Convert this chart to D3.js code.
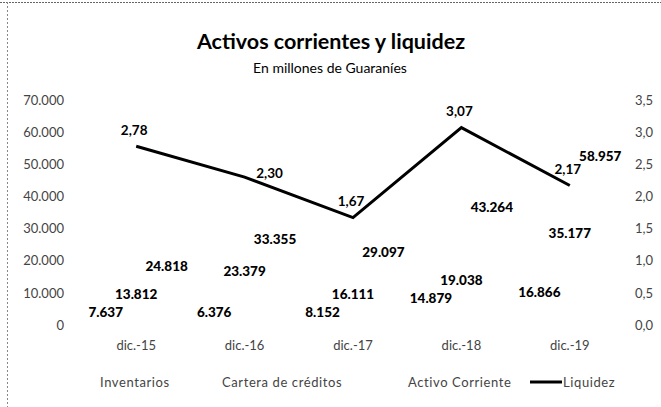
<!DOCTYPE html>
<html>
<head>
<meta charset="utf-8">
<script src="https://cdn.jsdelivr.net/npm/d3@7"></script>
<style>
  body { margin: 0; background: #fff; }
  svg { font-family: Lato, "Open Sans", sans-serif; }
</style>
</head>
<body>
<div id="chart"></div>
<script>
// datos
var categories = ["dic.-15", "dic.-16", "dic.-17", "dic.-18", "dic.-19"];
var inventarios = [7637, 6376, 8152, 14879, 16866];
var cartera = [13812, 23379, 16111, 19038, 35177];
var activoCorriente = [24818, 33355, 29097, 43264, 58957];
var liquidez = [2.78, 2.30, 1.67, 3.07, 2.17];
var seriesNames = ["Inventarios", "Cartera de créditos", "Activo Corriente"];
var leftTicks = [0, 10000, 20000, 30000, 40000, 50000, 60000, 70000];
var rightTicks = [0, 0.5, 1, 1.5, 2, 2.5, 3, 3.5];

var width = 661, height = 407;
var plot = {left: 82, right: 624, top: 100, bottom: 325};

var es = d3.formatLocale({decimal: ",", thousands: ".", grouping: [3], currency: ["", ""]});
var fmtMiles = es.format(",.0f");
var fmtDec1 = es.format(",.1f");
var fmtDec2 = es.format(",.2f");

var svg = d3.select("#chart").append("svg")
    .attr("width", width)
    .attr("height", height);

// marco punteado (recortado)
svg.append("line")
    .attr("x1", 0).attr("x2", width).attr("y1", 2.5).attr("y2", 2.5)
    .attr("stroke", "#666").attr("stroke-width", 1).attr("stroke-dasharray", "2,1");
svg.append("line")
    .attr("x1", 7.5).attr("x2", 7.5).attr("y1", 2).attr("y2", height)
    .attr("stroke", "#888").attr("stroke-width", 1).attr("stroke-dasharray", "2,2");

// titulo
svg.append("text")
    .attr("x", 331).attr("y", 49)
    .attr("text-anchor", "middle")
    .attr("font-size", 21.5).attr("font-weight", "bold")
    .attr("fill", "#000")
    .text("Activos corrientes y liquidez");
svg.append("text")
    .attr("x", 330).attr("y", 73)
    .attr("text-anchor", "middle")
    .attr("font-size", 14)
    .attr("fill", "#000")
    .text("En millones de Guaraníes");

var x = d3.scaleBand().domain(categories).range([plot.left, plot.right]).padding(0);
var xs = d3.scaleBand().domain(seriesNames).range([0, x.bandwidth()]).paddingInner(0).paddingOuter(0.28);
var yL = d3.scaleLinear().domain([0, 70000]).range([plot.bottom, plot.top]);
var yR = d3.scaleLinear().domain([0, 3.5]).range([plot.bottom, plot.top]);

// ejes
var axisL = svg.append("g")
    .attr("transform", "translate(" + (plot.left - 18) + ",0)")
    .call(d3.axisLeft(yL).tickValues(leftTicks).tickFormat(fmtMiles).tickSize(0).tickPadding(0));
var axisR = svg.append("g")
    .attr("transform", "translate(" + (plot.right + 11) + ",0)")
    .call(d3.axisRight(yR).tickValues(rightTicks).tickFormat(fmtDec1).tickSize(0).tickPadding(0));
var axisB = svg.append("g")
    .attr("transform", "translate(0," + (plot.bottom + 16) + ")")
    .call(d3.axisBottom(x).tickSize(0).tickPadding(0));

[axisL, axisR, axisB].forEach(function (a) {
    a.select(".domain").remove();
    a.selectAll("text")
        .attr("font-family", "Lato, 'Open Sans', sans-serif")
        .attr("font-size", 13)
        .attr("fill", "#444");
});

// barras (relleno blanco, como en el original)
var table = [];
categories.forEach(function (c, i) {
    var vals = [inventarios[i], cartera[i], activoCorriente[i]];
    var prevY = null;
    vals.forEach(function (v, j) {
        var ly = Math.min(yL(v) + 21, yL(0) - 13);
        if (prevY !== null && ly > prevY - 17) ly = prevY - 18;
        prevY = ly;
        table.push({cat: c, serie: seriesNames[j], value: v, ly: ly});
    });
});

svg.append("g").selectAll("rect")
    .data(table)
    .enter()
    .append("rect")
    .attr("x", function (d) { return x(d.cat) + xs(d.serie); })
    .attr("width", xs.bandwidth())
    .attr("y", function (d) { return yL(d.value); })
    .attr("height", function (d) { return yL(0) - yL(d.value); })
    .attr("fill", "#fff");

svg.append("g").selectAll("text")
    .data(table)
    .enter()
    .append("text")
    .attr("x", function (d) { return x(d.cat) + xs(d.serie) + xs.bandwidth() / 2; })
    .attr("y", function (d) { return d.ly; })
    .attr("dy", "0.35em")
    .attr("text-anchor", "middle")
    .attr("font-size", 13.5).attr("font-weight", 900)
    .attr("fill", "#000")
    .text(function (d) { return fmtMiles(d.value); });

// linea de liquidez
var liq = categories.map(function (c, i) { return {cat: c, value: liquidez[i], i: i}; });
var line = d3.line()
    .x(function (d) { return x(d.cat) + x.bandwidth() / 2; })
    .y(function (d) { return yR(d.value); });

svg.append("path")
    .datum(liq)
    .attr("d", line)
    .attr("fill", "none")
    .attr("stroke", "#000")
    .attr("stroke-width", 3);

function isMid(d) {
    return d.i > 0 && d.i < liq.length - 1 &&
        (liq[d.i - 1].value - d.value) * (d.value - liq[d.i + 1].value) > 0;
}

svg.append("g").selectAll("text")
    .data(liq)
    .enter()
    .append("text")
    .attr("x", function (d) {
        var px = x(d.cat) + x.bandwidth() / 2;
        // puntos intermedios de un tramo monotono: etiqueta a la derecha
        return isMid(d) ? px + 25 : px - 2;
    })
    .attr("y", function (d) { return yR(d.value) - (isMid(d) ? 4 : 16); })
    .attr("dy", "0.35em")
    .attr("text-anchor", "middle")
    .attr("font-size", 13.5).attr("font-weight", "bold")
    .attr("fill", "#000")
    .text(function (d) { return fmtDec2(d.value); });

// leyenda
var legendItems = [
    {name: seriesNames[0], type: "bar", x: 89},
    {name: seriesNames[1], type: "bar", x: 211},
    {name: seriesNames[2], type: "bar", x: 397},
    {name: "Liquidez", type: "line", x: 530}
];
var lg = svg.append("g").attr("transform", "translate(0,382)");
var items = lg.selectAll("g").data(legendItems).enter().append("g")
    .attr("transform", function (d) { return "translate(" + d.x + ",0)"; });
items.filter(function (d) { return d.type === "bar"; })
    .append("rect")
    .attr("x", 0).attr("y", -4).attr("width", 7).attr("height", 7)
    .attr("fill", "#fff");
items.filter(function (d) { return d.type === "line"; })
    .append("line")
    .attr("x1", 0).attr("x2", 32).attr("y1", 0).attr("y2", 0)
    .attr("stroke", "#000").attr("stroke-width", 3);
items.append("text")
    .attr("x", function (d) { return d.type === "line" ? 33 : 11; })
    .attr("dy", "0.35em")
    .attr("font-size", 13)
    .attr("letter-spacing", 0.6)
    .attr("fill", "#444")
    .text(function (d) { return d.name; });
</script>
</body>
</html>
